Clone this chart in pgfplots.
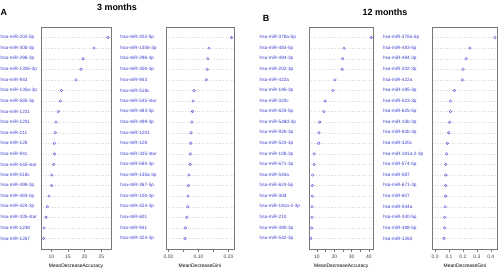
\documentclass[border=0pt]{standalone}
\usepackage{pgfplots}
\pgfplotsset{compat=1.18}
\usepackage{fontspec}
\setmainfont{Liberation Sans}
\definecolor{lab}{RGB}{60,60,205}
\definecolor{dotc}{RGB}{95,85,215}
\definecolor{frame}{RGB}{120,120,120}
\pgfplotsset{
  dotpanel/.style={
    scale only axis, height=222bp, ymin=0, ymax=21, ytick={1,...,20},
    ytick style={draw=none},
    yticklabel style={font=\fontsize{4.7}{5}\selectfont, text=lab, anchor=west, inner sep=0pt},
    ymajorgrids, major grid style={dotted, gray!30, line width=0.3bp},
    axis line style={frame, line width=0.6bp},
    xtick pos=left, tick align=outside, major tick length=2.5bp,
    xtick style={frame, line width=0.5bp},
    xticklabel style={font=\fontsize{5}{6}\selectfont, text=black!75, inner sep=0pt, yshift=-3.2bp},
    every axis x label/.style={at={(axis description cs:0.5,0)}, anchor=center, yshift=-17bp, font=\fontsize{5}{6}\selectfont},
    anchor=south west,
  },
  dots/.style={only marks, mark=o, mark size=1.3bp, color=dotc, mark options={line width=0.4bp}},
}
\begin{document}
\begin{tikzpicture}
\path[use as bounding box] (0,0) rectangle (500bp,276bp);
% Panel A1
\begin{axis}[dotpanel, at={(41bp,27bp)}, width=70bp, xmin=6.9, xmax=27.9,
  xtick={10,15,20,25}, xticklabels={10,15,20,25}, xlabel={MeanDecreaseAccuracy},
  yticklabel style={xshift=-38bp},
  yticklabels={hsa-miR-1267,hsa-miR-1248,hsa-miR-335-star,hsa-miR-424-3p,hsa-miR-483-5p,hsa-miR-499-3p,hsa-miR-518c,hsa-miR-545-star,hsa-miR-941,hsa-miR-128,hsa-miR-211,hsa-miR-1201,hsa-miR-1231,hsa-miR-585-3p,hsa-miR-135a-3p,hsa-miR-943,hsa-miR-1306-3p,hsa-miR-296-3p,hsa-miR-30b-3p,hsa-miR-202-5p}]
\addplot[dots] coordinates {(7.7,1)(7.8,2)(8.4,3)(8.8,4)(9.3,5)(10.1,6)(10.1,7)(10.7,8)(10.9,9)(10.9,10)(11.2,11)(11.4,12)(12.1,13)(12.7,14)(13.0,15)(17.4,16)(18.9,17)(19.5,18)(22.8,19)(27.0,20)};
\end{axis}
% Panel A2
\begin{axis}[dotpanel, at={(166bp,27bp)}, width=68bp, xmin=-0.0084, xmax=0.2184,
  xtick={0,0.05,0.10,0.15,0.20}, xticklabels={0.00,,0.10,,0.20}, xlabel={MeanDecreaseGini},
  yticklabel style={xshift=-43.3bp},
  yticklabels={hsa-miR-324-3p,hsa-miR-941,hsa-miR-601,hsa-miR-424-3p,hsa-miR-10b-3p,hsa-miR-367-5p,hsa-miR-135a-3p,hsa-miR-585-3p,hsa-miR-335-star,hsa-miR-128,hsa-miR-1201,hsa-miR-499-3p,hsa-miR-483-5p,hsa-miR-545-star,hsa-miR-518c,hsa-miR-943,hsa-miR-30b-3p,hsa-miR-296-3p,hsa-miR-1306-3p,hsa-miR-202-5p}]
\addplot[dots] coordinates {(0.055,1)(0.056,2)(0.061,3)(0.064,4)(0.065,5)(0.066,6)(0.068,7)(0.072,8)(0.073,9)(0.074,10)(0.075,11)(0.078,12)(0.080,13)(0.082,14)(0.085,15)(0.126,16)(0.129,17)(0.131,18)(0.135,19)(0.210,20)};
\end{axis}
% Panel B1
\begin{axis}[dotpanel, at={(309bp,27bp)}, width=64.5bp, xmin=5.4, xmax=42.6,
  xtick={10,15,...,40}, xticklabels={10,,20,,30,,40}, xlabel={MeanDecreaseAccuracy},
  yticklabel style={xshift=-47bp},
  yticklabels={hsa-miR-542-3p,hsa-miR-490-3p,hsa-miR-210,hsa-miR-181a-2-3p,hsa-miR-30d,hsa-miR-624-5p,hsa-miR-544a,hsa-miR-671-3p,hsa-miR-10b-3p,hsa-miR-523-3p,hsa-miR-92b-3p,hsa-miR-548d-3p,hsa-miR-625-5p,hsa-miR-320c,hsa-miR-195-3p,hsa-miR-422a,hsa-miR-202-3p,hsa-miR-494-3p,hsa-miR-483-5p,hsa-miR-378a-5p}]
\addplot[dots] coordinates {(6.5,1)(6.9,2)(7.1,3)(7.1,4)(7.3,5)(7.3,6)(7.5,7)(8.3,8)(8.4,9)(11.0,10)(11.2,11)(11.5,12)(14.0,13)(14.6,14)(19.2,15)(20.4,16)(24.6,17)(24.8,18)(25.6,19)(41.3,20)};
\end{axis}
% Panel B2
\begin{axis}[dotpanel, at={(432.7bp,27bp)}, width=64.6bp, xmin=-0.0172, xmax=0.447,
  xtick={0,0.1,0.2,0.3,0.4}, xticklabels={0.0,0.1,0.2,0.3,0.4}, xlabel={MeanDecreaseGini},
  yticklabel style={xshift=-47.4bp},
  yticklabels={hsa-miR-1260,hsa-miR-488-5p,hsa-miR-340-5p,hsa-miR-544a,hsa-miR-607,hsa-miR-671-3p,hsa-miR-587,hsa-miR-574-5p,hsa-miR-181a-2-3p,hsa-miR-320c,hsa-miR-92b-3p,hsa-miR-10b-3p,hsa-miR-625-5p,hsa-miR-523-3p,hsa-miR-195-3p,hsa-miR-422a,hsa-miR-202-3p,hsa-miR-494-3p,hsa-miR-483-5p,hsa-miR-378a-5p}]
\addplot[dots] coordinates {(0.065,1)(0.069,2)(0.069,3)(0.072,4)(0.076,5)(0.076,6)(0.076,7)(0.076,8)(0.083,9)(0.088,10)(0.098,11)(0.105,12)(0.110,13)(0.110,14)(0.139,15)(0.196,16)(0.201,17)(0.223,18)(0.249,19)(0.430,20)};
\end{axis}
\node[font=\bfseries\fontsize{9}{10}\selectfont] at (117bp,269bp) {3 months};
\node[font=\bfseries\fontsize{9}{10}\selectfont] at (385bp,263.3bp) {12 months};
\node[font=\bfseries\fontsize{9}{10}\selectfont] at (3.8bp,263.7bp) {A};
\node[font=\bfseries\fontsize{9}{10}\selectfont] at (266bp,257.7bp) {B};
\end{tikzpicture}
\end{document}
